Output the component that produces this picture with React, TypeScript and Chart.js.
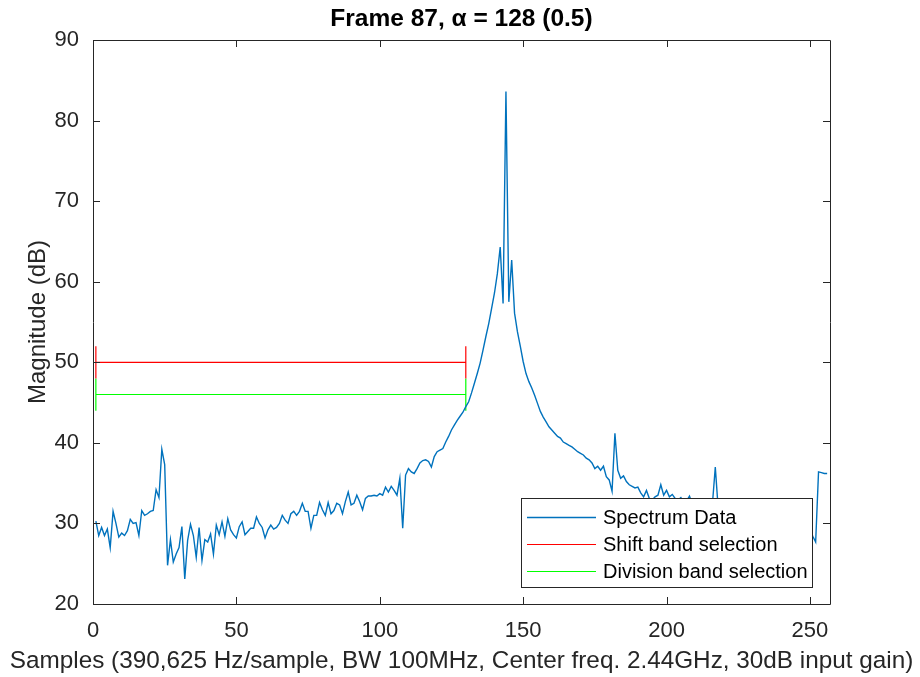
import React, { useEffect, useRef } from 'react';
import { Chart, registerables } from 'chart.js';

Chart.register(...registerables);

// ---------- data ----------
const spectrumDb: number[] = [
  30.3, 28.5, 29.5, 28.5, 29.3, 27.0, 31.5, 30.0, 28.3, 28.8,
  28.5, 29.1, 30.5, 30.0, 30.1, 28.5, 31.6, 31.0, 31.2, 31.5,
  31.6, 34.2, 33.2, 39.2, 37.3, 24.8, 28.0, 25.2, 26.2, 27.0,
  29.6, 23.1, 27.9, 29.9, 28.5, 25.8, 29.5, 25.4, 28.0, 27.7,
  28.7, 26.2, 29.8, 28.6, 30.2, 28.4, 30.6, 29.2, 28.6, 28.2,
  29.6, 30.2, 28.6, 29.0, 29.4, 29.4, 30.8, 30.0, 29.5, 28.2,
  29.2, 29.8, 29.3, 29.5, 30.0, 31.0, 30.4, 30.0, 31.2, 31.5,
  31.0, 31.5, 32.5, 31.5, 31.5, 29.4, 31.0, 31.0, 32.6, 31.7,
  31.0, 32.6, 31.2, 31.6, 32.5, 32.3, 31.2, 32.7, 33.9, 32.3,
  32.5, 33.5, 32.7, 31.7, 33.1, 33.4, 33.4, 33.5, 33.4, 33.7,
  33.5, 34.5, 33.9, 34.6, 34.1, 33.5, 35.6, 29.4, 36.0, 36.8,
  36.4, 36.2, 36.8, 37.5, 37.8, 37.9, 37.7, 37.0, 38.3, 38.9,
  39.1, 39.3, 40.1, 40.8, 41.6, 42.2, 42.8, 43.3, 43.8, 44.5,
  45.1, 46.2, 47.4, 48.6, 49.9, 51.5, 53.2, 54.8, 56.7, 58.6,
  61.0, 64.3, 57.3, 83.6, 57.5, 62.7, 56.1, 53.8, 52.0, 50.1,
  48.6, 47.6, 46.8, 45.9, 44.9, 43.9, 43.2, 42.6, 42.0, 41.6,
  41.2, 40.8, 40.6, 40.1, 39.9, 39.7, 39.5, 39.2, 38.9, 38.7,
  38.5, 38.1, 37.9, 37.5, 36.8, 37.1, 36.6, 37.1, 35.8, 35.4,
  34.0, 41.2, 36.6, 35.6, 35.9, 35.2, 34.8, 34.6, 34.4, 34.5,
  33.8, 33.3, 34.1, 33.1, 32.9, 33.3, 33.5, 34.8, 33.5, 34.1,
  33.3, 33.6, 33.1, 32.9, 33.2, 32.6, 32.8, 33.4, 32.4, 32.9,
  32.2, 32.6, 31.9, 32.3, 31.8, 32.4, 37.0, 31.9, 31.5, 31.9,
  31.2, 31.6, 31.0, 31.4, 30.8, 31.2, 30.6, 30.9, 30.5, 30.8,
  30.2, 30.6, 30.0, 30.4, 29.9, 30.3, 29.7, 30.0, 29.5, 29.9,
  29.4, 29.7, 29.2, 29.6, 29.1, 29.5, 29.0, 29.4, 29.0, 29.2,
  28.4, 27.7, 36.4, 36.3, 36.2, 36.2,
];
const firstSample = 1;

// band selections: [start sample, end sample], level (dB), cap half-height (dB)
const shiftBandRange = [1, 130];
const shiftBandLevel = 50;
const divisionBandRange = [1, 130];
const divisionBandLevel = 46;
const bandCapHalf = 2;

const xTickValues = [0, 50, 100, 150, 200, 250];
const yTickValues = [20, 30, 40, 50, 60, 70, 80, 90];
const xLimits = [0, 257];
const yLimits = [20, 90];

const seriesLabels = ['Spectrum Data', 'Shift band selection', 'Division band selection'];
const titleText = 'Frame 87, \u03B1 = 128 (0.5)';
const xLabel = 'Samples (390,625 Hz/sample, BW 100MHz, Center freq. 2.44GHz, 30dB input gain)';
const yLabel = 'Magnitude (dB)';

// ---------- styles ----------
const FONT = '"Liberation Sans", Arial, Helvetica, sans-serif';
const AXIS_COLOR = '#262626';

function bandPoints(range: number[], level: number) {
  const [a, b] = range;
  return [
    { x: a, y: level + bandCapHalf },
    { x: a, y: level - bandCapHalf },
    { x: a, y: level },
    { x: b, y: level },
    { x: b, y: level + bandCapHalf },
    { x: b, y: level - bandCapHalf },
  ];
}

const framePlugin = {
  id: 'matlabFrame',
  afterDraw(chart: any) {
    const { ctx, chartArea } = chart;
    const { left, right, top, bottom } = chartArea;
    const xs = chart.scales.x;
    const ys = chart.scales.y;
    const tl = 7;
    ctx.save();
    ctx.strokeStyle = AXIS_COLOR;
    ctx.lineWidth = 1;
    ctx.beginPath();
    ctx.rect(Math.round(left) + 0.5, Math.round(top) + 0.5, Math.round(right - left), Math.round(bottom - top));
    ctx.stroke();
    ctx.beginPath();
    xTickValues.forEach((v) => {
      const px = Math.round(xs.getPixelForValue(v)) + 0.5;
      ctx.moveTo(px, bottom);
      ctx.lineTo(px, bottom - tl);
      ctx.moveTo(px, top);
      ctx.lineTo(px, top + tl);
    });
    yTickValues.forEach((v) => {
      const py = Math.round(ys.getPixelForValue(v)) + 0.5;
      ctx.moveTo(left, py);
      ctx.lineTo(left + tl, py);
      ctx.moveTo(right, py);
      ctx.lineTo(right - tl, py);
    });
    ctx.stroke();

    // title and x label, centred over the plot area
    const cx = (left + right) / 2;
    ctx.textAlign = 'center';
    ctx.textBaseline = 'middle';
    ctx.fillStyle = '#000000';
    ctx.font = `bold 24.5px ${FONT}`;
    ctx.fillText(titleText, cx, top - 21);
    ctx.fillStyle = AXIS_COLOR;
    ctx.font = `24.3px ${FONT}`;
    ctx.fillText(xLabel, cx, bottom + 57);
    ctx.restore();
  },
};

const legendPlugin = {
  id: 'insetLegend',
  afterDraw(chart: any) {
    const { ctx, chartArea } = chart;
    const w = 291;
    const h = 89;
    const x0 = Math.round(chartArea.right - 18 - w);
    const y0 = Math.round(chartArea.bottom - 17 - h);
    ctx.save();
    ctx.fillStyle = '#ffffff';
    ctx.fillRect(x0, y0, w, h);
    ctx.strokeStyle = AXIS_COLOR;
    ctx.lineWidth = 1;
    ctx.strokeRect(x0 + 0.5, y0 + 0.5, w, h);
    ctx.font = `20px ${FONT}`;
    ctx.textBaseline = 'middle';
    ctx.textAlign = 'left';
    chart.data.datasets.forEach((ds: any, i: number) => {
      const cy = y0 + 19 + i * 27;
      ctx.strokeStyle = ds.borderColor;
      ctx.lineWidth = ds.borderWidth;
      ctx.beginPath();
      ctx.moveTo(x0 + 6, cy + 0.5);
      ctx.lineTo(x0 + 75, cy + 0.5);
      ctx.stroke();
      ctx.fillStyle = '#000000';
      ctx.fillText(ds.label, x0 + 82, cy + 1);
    });
    ctx.restore();
  },
};

export default function App() {
  const canvasRef = useRef<HTMLCanvasElement | null>(null);

  useEffect(() => {
    document.body.style.margin = '0';
    const canvas = canvasRef.current;
    if (!canvas) return;
    const spectrum = spectrumDb.map((y, i) => ({ x: firstSample + i, y }));
    const chart = new Chart(canvas, {
      type: 'line',
      data: {
        datasets: [
          {
            label: seriesLabels[0],
            data: spectrum,
            borderColor: '#0072BD',
            borderWidth: 1.4,
            pointRadius: 0,
            tension: 0,
          },
          {
            label: seriesLabels[1],
            data: bandPoints(shiftBandRange, shiftBandLevel),
            borderColor: '#FF0000',
            borderWidth: 1.2,
            pointRadius: 0,
            tension: 0,
          },
          {
            label: seriesLabels[2],
            data: bandPoints(divisionBandRange, divisionBandLevel),
            borderColor: '#00FF00',
            borderWidth: 1.2,
            pointRadius: 0,
            tension: 0,
          },
        ],
      },
      options: {
        animation: false,
        responsive: false,
        maintainAspectRatio: false,
        devicePixelRatio: 1,
        layout: { padding: { left: 0, right: 90, top: 40, bottom: 0 } },
        plugins: {
          legend: { display: false },
          tooltip: { enabled: false },
          title: { display: false },
        },
        scales: {
          x: {
            type: 'linear',
            min: xLimits[0],
            max: xLimits[1],
            afterFit: (s: any) => { s.height = 73; },
            afterBuildTicks: (s: any) => { s.ticks = xTickValues.map((v) => ({ value: v })); },
            ticks: {
              includeBounds: false,
              color: AXIS_COLOR,
              font: { family: FONT, size: 22 },
              padding: 6,
              maxRotation: 0,
            },
            grid: { display: false },
            border: { display: false },
          },
          y: {
            type: 'linear',
            min: yLimits[0],
            max: yLimits[1],
            afterFit: (s: any) => { s.width = 93; },
            afterBuildTicks: (s: any) => { s.ticks = yTickValues.map((v) => ({ value: v })); },
            ticks: {
              color: AXIS_COLOR,
              font: { family: FONT, size: 22 },
              padding: 6,
            },
            grid: { display: false },
            border: { display: false },
            title: {
              display: true,
              text: yLabel,
              color: AXIS_COLOR,
              font: { family: FONT, size: 24 },
              padding: { top: 23.6, bottom: 0 },
            },
          },
        },
      },
      plugins: [framePlugin, legendPlugin],
    });
    return () => chart.destroy();
  }, []);

  return (
    <div style={{ width: 920, height: 677, position: 'relative', background: '#fff' }}>
      <canvas ref={canvasRef} width={920} height={677} style={{ display: 'block', width: 920, height: 677 }} />
    </div>
  );
}
